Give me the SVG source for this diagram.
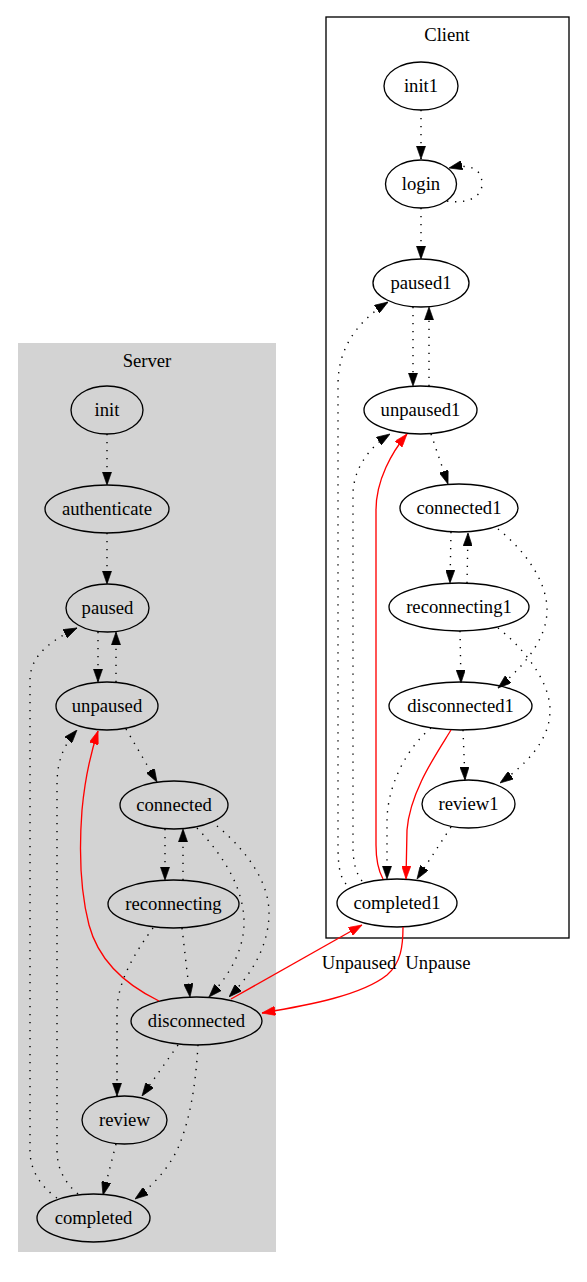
<svg xmlns="http://www.w3.org/2000/svg" width="587" height="1282" viewBox="0 0 587 1282">
  <style>
    text { font-family: "Liberation Serif", "Times New Roman", serif; font-size: 18.67px; fill: #000; text-anchor: middle; }
    .node ellipse { fill: none; stroke: #000; stroke-width: 1.33; }
    .dot { fill: none; stroke: #000; stroke-width: 1.4; stroke-dasharray: 1.33 6.67; marker-end: url(#ah); }
    .red { fill: none; stroke: #ff0000; stroke-width: 1.33; marker-end: url(#ahr); }
  </style>
  <defs>
    <marker id="ah" viewBox="0 0 10 7" refX="10" refY="3.5" markerWidth="13.3" markerHeight="9.3" markerUnits="userSpaceOnUse" orient="auto">
      <polygon points="0,0 10,3.5 0,7" fill="#000" stroke="#000" stroke-width="0.5"/>
    </marker>
    <marker id="ahr" viewBox="0 0 10 7" refX="10" refY="3.5" markerWidth="13.3" markerHeight="9.3" markerUnits="userSpaceOnUse" orient="auto">
      <polygon points="0,0 10,3.5 0,7" fill="#ff0000" stroke="#ff0000" stroke-width="0.5"/>
    </marker>
  </defs>
  <rect width="587" height="1282" fill="#fff"/>

  <!-- clusters -->
  <g id="cluster_client">
    <rect x="326" y="17" width="243" height="921" fill="#fff" stroke="#000" stroke-width="1.33"/>
    <text x="447" y="41">Client</text>
  </g>
  <g id="cluster_server">
    <rect x="18" y="343" width="258" height="909" fill="#d3d3d3"/>
    <text x="147" y="367">Server</text>
  </g>

  <!-- client nodes -->
  <g id="init1" class="node"><ellipse cx="421" cy="86" rx="37" ry="24"/><text x="421" y="92">init1</text></g>
  <g id="login" class="node"><ellipse cx="421" cy="184" rx="35.5" ry="24"/><text x="421" y="190">login</text></g>
  <g id="paused1" class="node"><ellipse cx="421" cy="283" rx="48" ry="24"/><text x="421" y="289">paused1</text></g>
  <g id="unpaused1" class="node"><ellipse cx="420.5" cy="410" rx="56.5" ry="24"/><text x="420.5" y="416">unpaused1</text></g>
  <g id="connected1" class="node"><ellipse cx="459" cy="508" rx="59" ry="24"/><text x="459" y="514">connected1</text></g>
  <g id="reconnecting1" class="node"><ellipse cx="459" cy="607" rx="70" ry="24"/><text x="459" y="613">reconnecting1</text></g>
  <g id="disconnected1" class="node"><ellipse cx="460.5" cy="706" rx="71.5" ry="24"/><text x="460.5" y="712">disconnected1</text></g>
  <g id="review1" class="node"><ellipse cx="468.5" cy="804" rx="46.5" ry="24"/><text x="468.5" y="810">review1</text></g>
  <g id="completed1" class="node"><ellipse cx="397" cy="903" rx="60" ry="24"/><text x="397" y="909">completed1</text></g>

  <!-- server nodes -->
  <g id="init" class="node"><ellipse cx="107" cy="410" rx="36" ry="24"/><text x="107" y="416">init</text></g>
  <g id="authenticate" class="node"><ellipse cx="107" cy="509" rx="62" ry="24"/><text x="107" y="515">authenticate</text></g>
  <g id="paused" class="node"><ellipse cx="107.5" cy="608" rx="41.5" ry="24"/><text x="107.5" y="614">paused</text></g>
  <g id="unpaused" class="node"><ellipse cx="107" cy="706" rx="51" ry="24"/><text x="107" y="712">unpaused</text></g>
  <g id="connected" class="node"><ellipse cx="174" cy="805" rx="54" ry="24"/><text x="174" y="811">connected</text></g>
  <g id="reconnecting" class="node"><ellipse cx="173.5" cy="904" rx="65.5" ry="24"/><text x="173.5" y="910">reconnecting</text></g>
  <g id="disconnected" class="node"><ellipse cx="196.5" cy="1021" rx="65.5" ry="24"/><text x="196.5" y="1027">disconnected</text></g>
  <g id="review" class="node"><ellipse cx="124.5" cy="1120" rx="42.5" ry="24"/><text x="124.5" y="1126">review</text></g>
  <g id="completed" class="node"><ellipse cx="93.5" cy="1218" rx="56.5" ry="24"/><text x="93.5" y="1224">completed</text></g>

  <!-- connectors -->
  <g id="edges">
    <!-- client -->
    <path class="dot" d="M421,110 L421,159"/>
    <path class="dot" d="M447,201 C466,204 482,198 482,184 C482,170 472,163 449,168"/>
    <path class="dot" d="M421,208 L421,259"/>
    <path class="dot" d="M413,307 L413,386"/>
    <path class="dot" d="M429,386 L429,307"/>
    <path class="dot" d="M346,884 C339,876 338,862 338,845 L338,385 C338,345 360,320 388,302"/>
    <path class="dot" d="M362,881 C355,872 353,860 353,845 L353,495 C353,470 368,448 390,434"/>
    <path class="red" d="M383,879 C378,870 376,858 376,845 L376,510 C376,480 392,452 407,434"/>
    <path class="dot" d="M431,434 L448,484"/>
    <path class="dot" d="M451,532 L450,583"/>
    <path class="dot" d="M467,583 L468,533"/>
    <path class="dot" d="M498,529 C522,548 548,580 547,612 C546,640 524,666 498,688"/>
    <path class="dot" d="M460,631 L461,683"/>
    <path class="dot" d="M498,628 C520,645 551,680 550,712 C549,742 525,765 500,783"/>
    <path class="dot" d="M463,730 L465,780"/>
    <path class="dot" d="M431,728 C410,745 387,782 387,822 L387,879"/>
    <path class="red" d="M451,730 C435,756 410,792 407,830 L406,879"/>
    <path class="dot" d="M451,827 L417,879"/>

    <!-- server -->
    <path class="dot" d="M107,434 L107,485"/>
    <path class="dot" d="M107,533 L107,584"/>
    <path class="dot" d="M98,632 L98,682"/>
    <path class="dot" d="M116,682 L116,632"/>
    <path class="dot" d="M57,1198 C40,1186 30,1170 30,1150 L30,680 C30,655 52,640 77,628"/>
    <path class="dot" d="M78,1194 C64,1182 57,1168 57,1150 L57,785 C57,760 64,745 77,730"/>
    <path class="red" d="M159,1001 C120,982 97,955 89,925 C80,890 79,850 82,810 C85,778 91,752 98,731"/>
    <path class="dot" d="M126,729 L157,782"/>
    <path class="dot" d="M165,829 L165,880"/>
    <path class="dot" d="M183,880 L183,829"/>
    <path class="dot" d="M197,828 C218,850 245,885 244,925 C243,955 225,980 209,997"/>
    <path class="dot" d="M217,826 C240,845 270,878 269,915 C268,950 248,978 229,997"/>
    <path class="dot" d="M182,928 L190,997"/>
    <path class="dot" d="M153,928 C140,946 117,978 117,1012 L117,1096"/>
    <path class="dot" d="M178,1045 L142,1096"/>
    <path class="dot" d="M198,1045 C196,1080 191,1118 178,1148 C168,1170 150,1188 135,1199"/>
    <path class="dot" d="M116,1144 L103,1195"/>

    <!-- between clusters -->
    <path class="red" d="M231,999 L362,925"/>
    <path class="red" d="M403,927 C403,946 401,963 387,975 C362,995 310,1005 262,1013"/>
    <text x="359" y="969">Unpaused</text>
    <text x="438" y="969">Unpause</text>
  </g>
</svg>
